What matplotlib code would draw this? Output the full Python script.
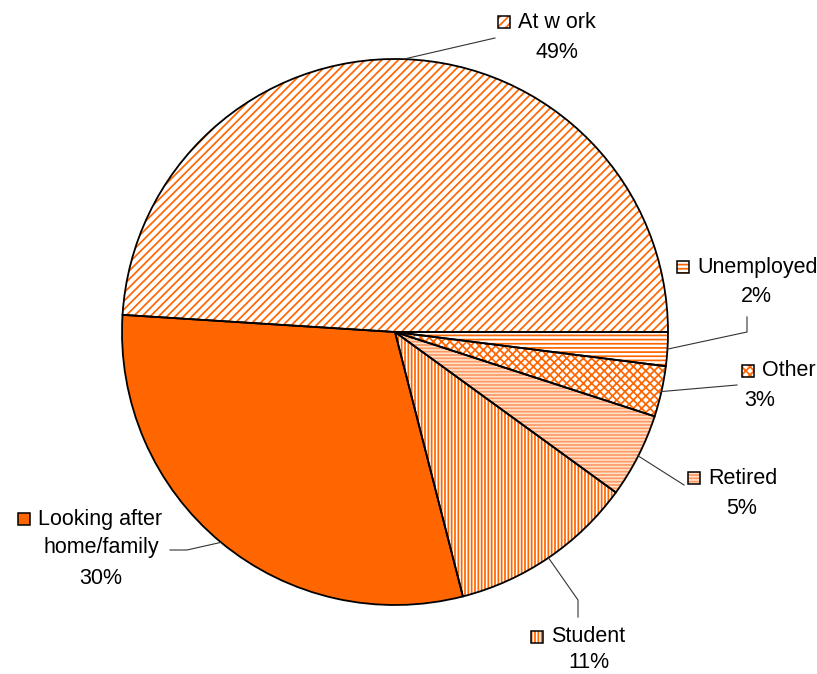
import numpy as np
import matplotlib.pyplot as plt
from matplotlib.patches import Rectangle

plt.rcParams['font.family'] = ['Liberation Sans', 'DejaVu Sans']
plt.rcParams['hatch.linewidth'] = 1.25

# data
names = ['At w ork', 'Looking after', 'Student', 'Retired', 'Other', 'Unemployed']
shares = [49, 30, 11, 5, 3, 2]
pct_text = ['49%', '30%', '11%', '5%', '3%', '2%']

# styling per slice
faces = ['white', '#FF6600', 'white', '#FFE4CC', 'white', 'white']
hatch_cols = ['#FF6600', '#FF6600', '#FF6600', '#FF9966', '#FF6600', '#FF6600']
hatches = ['////', None, '|||||', '-----', 'xxxx', '----']

W, H = 817, 674
cx, cy, R = 395, H - 332, 273

# label layout in image pixels: marker left, name y, pct centre x, pct y
lab_pos = {
    'At w ork': (498, 22, 557, 52),
    'Looking after': (18, 519, 101, 578),
    'Student': (531, 637, 589, 663),
    'Retired': (688, 478, 742, 508),
    'Other': (742, 371, 760, 400),
    'Unemployed': (677, 267, 756, 297),
}
# leader elbows (image pixels)
leaders = {
    'At w ork': [(495, 38)],
    'Looking after': [(187, 550), (170, 550)],
    'Student': [(578, 600), (578, 617)],
    'Retired': [(684, 485)],
    'Other': [(737, 385)],
    'Unemployed': [(747, 332), (747, 317)],
}

fig = plt.figure(figsize=(W / 100, H / 100), dpi=100)
ax = fig.add_axes([0, 0, 1, 1])

wedges, _ = ax.pie(shares, startangle=0, counterclock=True, center=(cx, cy),
                   radius=R, colors=faces, wedgeprops=dict(linewidth=0))
for w, h, hc in zip(wedges, hatches, hatch_cols):
    w.set_edgecolor(hc)
    w.set_linewidth(0)
    if h:
        w.set_hatch(h)
ax.pie(shares, startangle=0, counterclock=True, center=(cx, cy), radius=R,
       colors=['none'] * len(shares),
       wedgeprops=dict(linewidth=1.3, edgecolor='black'))

fs = 15.5
for w, name, pct, fc, h, hc in zip(wedges, names, pct_text, faces, hatches, hatch_cols):
    mid = np.deg2rad((w.theta1 + w.theta2) / 2)
    ax_, ay_ = cx + R * np.cos(mid), cy + R * np.sin(mid)
    pts = [(ax_, ay_)] + [(x, H - y) for x, y in leaders[name]]
    xs, ys = zip(*pts)
    ax.plot(xs, ys, color='#333333', lw=0.8, zorder=1)

    mx, ny, px, py = lab_pos[name]
    sq = 12
    box = Rectangle((mx, H - ny - sq / 2), sq, sq, facecolor=fc, edgecolor=hc,
                    linewidth=0, hatch=h, zorder=3)
    ax.add_patch(box)
    ax.add_patch(Rectangle((mx, H - ny - sq / 2), sq, sq, facecolor='none',
                           edgecolor='black', linewidth=1.1, zorder=4))
    ax.text(mx + sq + 8, H - ny, name, fontsize=fs, ha='left', va='center')
    if name == 'Looking after':
        ax.text(px, H - 548, 'home/family', fontsize=fs, ha='center', va='center')
    ax.text(px, H - py, pct, fontsize=fs, ha='center', va='center')

ax.set_xlim(0, W)
ax.set_ylim(0, H)
ax.set_aspect('equal')
ax.axis('off')
fig.savefig('out.png', dpi=100)
